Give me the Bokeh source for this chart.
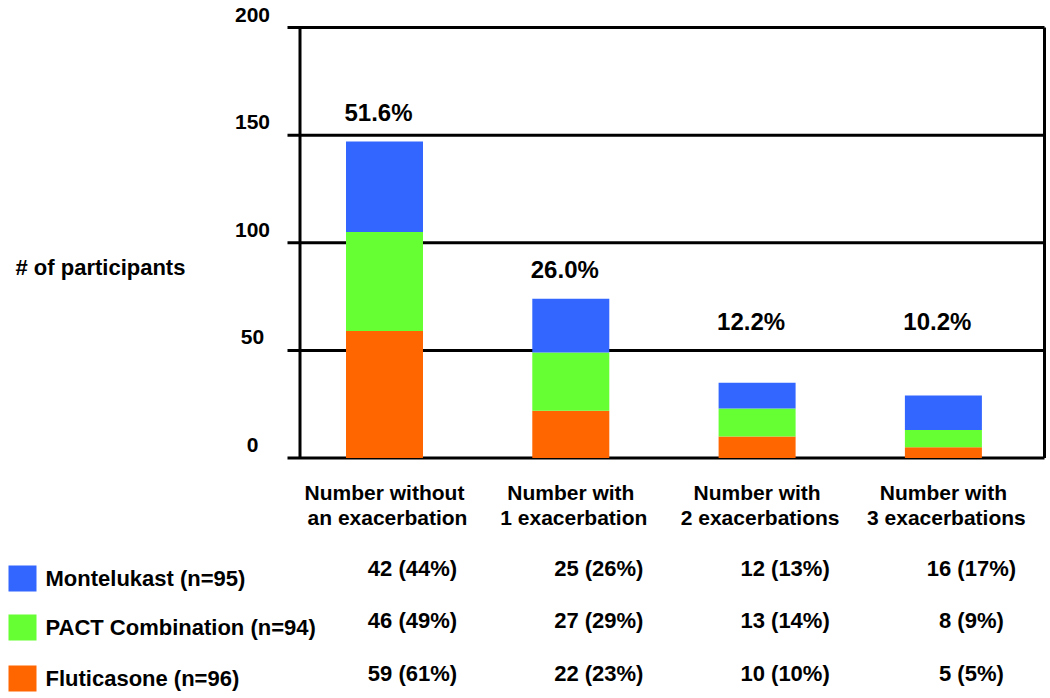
import numpy as np
from bokeh.plotting import figure
from bokeh.models import ColumnDataSource, Range1d
from bokeh.core.properties import value
from bokeh.embed import file_html
from bokeh.resources import INLINE

# ---------------- data ----------------
categories = ["Number without\nan exacerbation", "Number with\n1 exacerbation",
              "Number with\n2 exacerbations", "Number with\n3 exacerbations"]
montelukast = [42, 25, 12, 16]
montelukast_pct = [44, 26, 13, 17]
pact = [46, 27, 13, 8]
pact_pct = [49, 29, 14, 9]
fluticasone = [59, 22, 10, 5]
fluticasone_pct = [61, 23, 10, 5]
overall_pct = ["51.6%", "26.0%", "12.2%", "10.2%"]
group_names = ["Montelukast (n=95)", "PACT  Combination (n=94)", "Fluticasone (n=96)"]
y_ticks = [0, 50, 100, 150, 200]

# ---------------- styles / layout ----------------
BLUE, GREEN, ORANGE = "#3366FF", "#66FF33", "#FF6600"
W, H = 1048, 696
PX_X = 186.3             # px per category
X0 = 384.0               # canvas px of first category
PX_Y = 2.1525            # px per participant
Y0 = 457.5               # canvas px of zero

def dx(px):  # canvas px -> data x
    return (px - X0) / PX_X

def dy(px):  # canvas px -> data y
    return (Y0 - px) / PX_Y

FONT = value("Liberation Sans")

p = figure(width=W, height=H, x_range=Range1d(dx(0), dx(W)), y_range=Range1d(dy(H), dy(0)),
           output_backend="svg", toolbar_location=None, min_border=0,
           min_border_left=0, min_border_right=0, min_border_top=0, min_border_bottom=0)
p.axis.visible = False
p.grid.visible = False
p.outline_line_color = None
p.background_fill_color = "white"

x = np.arange(len(categories), dtype=float)

# frame / grid lines
axis_x = dx(299.5)
tick_left = dx(287)
right_x = dx(1044)
p.segment(x0=[tick_left] * len(y_ticks), x1=[right_x] * len(y_ticks), y0=y_ticks, y1=y_ticks,
          line_color="black", line_width=3)
p.segment(x0=[axis_x, right_x], x1=[axis_x, right_x], y0=[0, 0], y1=[200, 200],
          line_color="black", line_width=3)

# tick labels
p.text(x=[dx(252)] * len(y_ticks), y=y_ticks, text=[str(t) for t in y_ticks],
       text_align="center", text_baseline="middle", y_offset=-13,
       text_font=FONT, text_font_style="bold", text_font_size="21px", text_color="black")

# y title
p.text(x=[dx(15)], y=[dy(267)], text=["# of participants"], text_align="left",
       text_baseline="middle", text_font=FONT, text_font_style="bold",
       text_font_size="22px", text_color="black")

# stacked bars
src = ColumnDataSource(dict(x=x, flut=fluticasone, pact=pact, mont=montelukast))
p.vbar_stack(["flut", "pact", "mont"], x="x", width=77 / PX_X, color=[ORANGE, GREEN, BLUE],
             line_color=None, source=src)

# percentage labels
totals = np.array(fluticasone) + np.array(pact) + np.array(montelukast)
p.text(x=x, y=np.maximum(totals, 50), text=overall_pct, text_align="center",
       text_baseline="middle", x_offset=-6, y_offset=-29, text_font=FONT,
       text_font_style="bold", text_font_size="24px", text_color="black")

# category labels (two lines)
line1 = [c.split("\n")[0] for c in categories]
line2 = [c.split("\n")[1] for c in categories]
p.text(x=x, y=[dy(492)] * 4, text=line1, text_align="center", text_baseline="middle",
       text_font=FONT, text_font_style="bold", text_font_size="21px", text_color="black")
p.text(x=x + 3 / PX_X, y=[dy(517)] * 4, text=line2, text_align="center", text_baseline="middle",
       text_font=FONT, text_font_style="bold", text_font_size="21px", text_color="black")

# legend rows with table values
row_label_px = [578, 627, 678]
row_value_px = [568, 620, 673]
colors = [BLUE, GREEN, ORANGE]
series = [(montelukast, montelukast_pct), (pact, pact_pct), (fluticasone, fluticasone_pct)]
p.rect(x=[dx(22)] * 3, y=[dy(v) for v in row_label_px], width=28, height=26,
       width_units="screen", height_units="screen", fill_color=colors, line_color=None)
p.text(x=[dx(45)] * 3, y=[dy(v) for v in row_label_px], text=group_names, text_align="left",
       text_baseline="middle", text_font=FONT, text_font_style="bold",
       text_font_size="22px", text_color="black")
for (vals, pcts), ypx in zip(series, row_value_px):
    labels = [f"{v} ({pc}%)" for v, pc in zip(vals, pcts)]
    p.text(x=x + 28 / PX_X, y=[dy(ypx)] * 4, text=labels, text_align="center",
           text_baseline="middle", text_font=FONT, text_font_style="bold",
           text_font_size="22px", text_color="black")

open("out.html", "w").write(file_html(p, INLINE))
